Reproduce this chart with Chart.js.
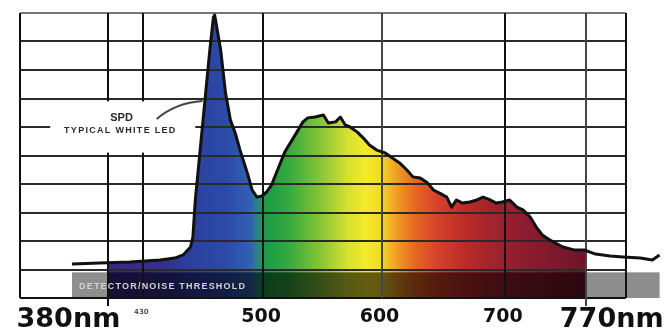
<!DOCTYPE html>
<html lang="en">
<head>
  <meta charset="UTF-8" />
  <title>SPD Typical White LED</title>
  <script src="https://cdn.jsdelivr.net/npm/chart.js"></script>
  <style>
    body { margin: 0; background: #fff; }
  </style>
</head>
<body>
  <canvas id="spd" width="667" height="333"></canvas>

  <script>
    // spectral power distribution (nm, relative units)
    const wavelengths = [342, 365, 390, 415, 427, 434, 440, 442, 444, 448, 452, 456, 459, 460, 465, 469, 473, 477, 481, 487,
      491, 495, 499, 503, 507, 512, 518, 524, 529, 533, 537, 543, 550, 554, 560, 564, 568, 572, 578, 583,
      588, 594, 601, 607, 613, 619, 624, 630, 636, 641, 646, 652, 656, 660, 665, 671, 677, 682, 688, 693,
      698, 704, 710, 715, 721, 726, 731, 737, 748, 758, 766, 775, 787, 798, 812, 822, 828];
    const intensity = [1.19, 1.23, 1.26, 1.33, 1.40, 1.51, 1.79, 2.14, 3.44, 5.19, 6.95, 8.70, 9.86, 9.93, 8.70, 7.19, 6.25, 5.79, 5.19, 4.39,
      3.79, 3.54, 3.58, 3.72, 3.96, 4.49, 5.12, 5.54, 5.89, 6.18, 6.32, 6.35, 6.42, 6.14, 6.18, 6.35, 6.07, 6.00, 5.82, 5.61,
      5.37, 5.19, 5.09, 4.91, 4.74, 4.49, 4.25, 4.21, 4.04, 3.79, 3.68, 3.54, 3.19, 3.44, 3.33, 3.37, 3.44, 3.54, 3.44, 3.33,
      3.37, 3.44, 3.19, 3.09, 2.84, 2.49, 2.21, 2.04, 1.79, 1.68, 1.68, 1.54, 1.47, 1.44, 1.40, 1.33, 1.51];

    // grid lines and labels along the wavelength axis
    const gridX = [299, 372, 401, 500, 598, 700, 767, 800];
    const tickValues = [372, 401, 500, 598, 700, 767];
    const tickLabels = ['380nm', '430', '500', '600', '700', '770nm'];
    const gridY = [1, 2, 3, 4, 5, 6, 7, 8, 9, 10];

    const visibleRange = [372, 767];
    const noiseThreshold = 0.9;

    // colour of the visible spectrum (nm -> colour)
    const rainbow = [
      [372, '#3b2585'], [420, '#35308f'], [440, '#2c3f9e'], [470, '#2b4ba8'], [490, '#3262b2'],
      [496, '#268a7e'], [502, '#1c9a48'], [520, '#32a83e'], [545, '#7dc236'], [570, '#d8e030'],
      [585, '#f4ea2a'], [598, '#f2d828'], [610, '#f0a024'], [625, '#e66a22'], [645, '#d4402a'],
      [670, '#b82a28'], [700, '#962030'], [740, '#80182c'], [767, '#6e1428']
    ];

    function spectrumFill(context) {
      const chart = context.chart;
      const { chartArea, scales } = chart;
      if (!chartArea) return null;
      const x0 = chartArea.left, x1 = chartArea.right;
      const g = chart.ctx.createLinearGradient(x0, 0, x1, 0);
      const pos = nm => Math.min(1, Math.max(0, (scales.x.getPixelForValue(nm) - x0) / (x1 - x0)));
      g.addColorStop(0, 'rgba(255,255,255,0)');
      g.addColorStop(pos(visibleRange[0]), 'rgba(255,255,255,0)');
      rainbow.forEach(([nm, c]) => g.addColorStop(pos(nm), c));
      g.addColorStop(pos(visibleRange[1]), 'rgba(255,255,255,0)');
      g.addColorStop(1, 'rgba(255,255,255,0)');
      return g;
    }

    const overlay = {
      id: 'overlay',
      afterDatasetDraw(chart, args) {
        if (args.index !== 1) return;
        const { ctx, scales: { x, y } } = chart;
        ctx.save();

        // detector / noise threshold band
        const bx0 = x.getPixelForValue(wavelengths[0]);
        const bx1 = x.getPixelForValue(wavelengths[wavelengths.length - 1]);
        const s0 = x.getPixelForValue(visibleRange[0]);
        const s1 = x.getPixelForValue(visibleRange[1]);
        const by0 = y.getPixelForValue(noiseThreshold);
        const by1 = y.getPixelForValue(0);
        ctx.fillStyle = '#8e8e8e';
        ctx.fillRect(bx0, by0, s0 - bx0, by1 - by0);
        ctx.fillRect(s1, by0, bx1 - s1, by1 - by0);
        ctx.fillStyle = 'rgba(0,0,0,0.6)';
        ctx.fillRect(s0, by0, s1 - s0, by1 - by0);

        // grid
        const gl = x.getPixelForValue(gridX[0]);
        const gr = x.getPixelForValue(gridX[gridX.length - 1]);
        ctx.lineWidth = 2;
        gridY.forEach(v => {
          const py = Math.round(y.getPixelForValue(v));
          ctx.strokeStyle = v === 10 ? '#777' : '#2a2a2a';
          ctx.beginPath();
          ctx.moveTo(gl, py);
          ctx.lineTo(gr, py);
          ctx.stroke();
        });
        ctx.strokeStyle = '#111';
        ctx.beginPath();
        ctx.moveTo(gl, by1);
        ctx.lineTo(gr, by1);
        ctx.stroke();
        gridX.forEach(v => {
          const px = Math.round(x.getPixelForValue(v));
          const tick = (v === tickValues[0] || v === tickValues[tickValues.length - 1]) ? 8 : 0;
          ctx.strokeStyle = (v === 598 || v === 767) ? '#444' : '#111';
          ctx.beginPath();
          ctx.moveTo(px, y.getPixelForValue(10));
          ctx.lineTo(px, by1 + tick);
          ctx.stroke();
        });

        // SPD annotation
        const ax0 = x.getPixelForValue(324), ax1 = x.getPixelForValue(444);
        const ay0 = y.getPixelForValue(6.9), ay1 = y.getPixelForValue(5.1);
        ctx.fillStyle = '#fff';
        ctx.fillRect(ax0, ay0, ax1 - ax0, ay1 - ay0);
        ctx.fillStyle = '#2a2a2a';
        ctx.textAlign = 'center';
        ctx.textBaseline = 'alphabetic';
        ctx.font = 'bold 11px "Liberation Sans"';
        ctx.fillText('SPD', x.getPixelForValue(383), y.getPixelForValue(6.22));
        ctx.font = 'bold 9px "Liberation Sans"';
        ctx.letterSpacing = '1.3px';
        ctx.fillText('TYPICAL WHITE LED', x.getPixelForValue(382), y.getPixelForValue(5.8));
        ctx.strokeStyle = '#444';
        ctx.lineWidth = 2;
        ctx.beginPath();
        ctx.moveTo(x.getPixelForValue(412), y.getPixelForValue(6.28));
        ctx.quadraticCurveTo(x.getPixelForValue(428), y.getPixelForValue(6.85),
          x.getPixelForValue(450), y.getPixelForValue(6.91));
        ctx.stroke();

        // band caption
        ctx.fillStyle = '#d2d2d2';
        ctx.textAlign = 'left';
        ctx.textBaseline = 'middle';
        ctx.font = 'bold 9px "Liberation Sans"';
        ctx.letterSpacing = '1.2px';
        ctx.fillText('DETECTOR/NOISE THRESHOLD', bx0 + 7, (by0 + by1) / 2 + 1);
        ctx.restore();
      },
      afterDraw(chart) {
        const { ctx, scales: { x } } = chart;
        ctx.save();
        ctx.fillStyle = '#111';
        ctx.textBaseline = 'alphabetic';
        tickValues.forEach((v, i) => {
          const px = x.getPixelForValue(v);
          const last = tickLabels.length - 1;
          if (i === 0) {
            ctx.font = 'bold 27px "DejaVu Sans"';
            ctx.textAlign = 'right';
            ctx.fillText(tickLabels[i], px + 12, 327);
          } else if (i === last) {
            ctx.font = 'bold 27px "DejaVu Sans"';
            ctx.textAlign = 'left';
            ctx.fillText(tickLabels[i], px - 26, 327);
          } else if (i === 1) {
            ctx.font = 'bold 7px "DejaVu Sans"';
            ctx.fillStyle = '#555';
            ctx.textAlign = 'center';
            ctx.fillText(tickLabels[i], px - 2, 314);
            ctx.fillStyle = '#111';
          } else {
            ctx.font = 'bold 19px "DejaVu Sans"';
            ctx.textAlign = 'center';
            ctx.fillText(tickLabels[i], px - 2, 322);
          }
        });
        ctx.restore();
      }
    };

    const points = wavelengths.map((nm, i) => ({ x: nm, y: intensity[i] }));

    new Chart(document.getElementById('spd'), {
      type: 'line',
      data: {
        datasets: [
          {
            label: 'SPD',
            data: points,
            borderColor: '#111',
            borderWidth: 3,
            borderJoinStyle: 'round',
            pointRadius: 0,
            tension: 0,
            fill: false,
            order: 0
          },
          {
            label: 'spectrum',
            data: points,
            borderWidth: 0,
            pointRadius: 0,
            tension: 0,
            fill: 'origin',
            backgroundColor: spectrumFill,
            order: 1
          }
        ]
      },
      options: {
        responsive: false,
        animation: false,
        layout: { padding: { left: 20, right: 5, top: 13, bottom: 35 } },
        plugins: { legend: { display: false }, tooltip: { enabled: false } },
        scales: {
          x: { type: 'linear', min: 299, max: 830, display: false },
          y: { min: 0, max: 10, display: false }
        }
      },
      plugins: [overlay]
    });
  </script>
</body>
</html>
